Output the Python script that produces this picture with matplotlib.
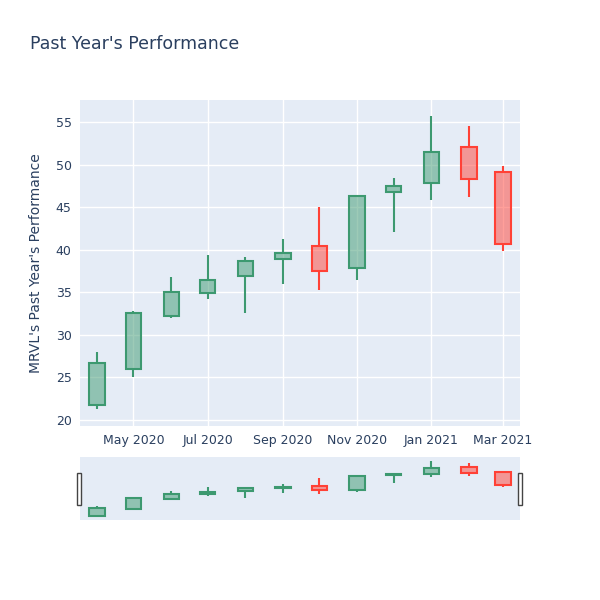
import matplotlib
matplotlib.use("Agg")
import matplotlib.pyplot as plt
import matplotlib.dates as mdates
from matplotlib.patches import Rectangle
import datetime as dt

dates = ["2020-04-01", "2020-05-01", "2020-06-01", "2020-07-01", "2020-08-01", "2020-09-01",
         "2020-10-01", "2020-11-01", "2020-12-01", "2021-01-01", "2021-02-01", "2021-03-01"]
opens = [21.76, 26.03, 32.21, 34.95, 36.95, 38.91, 40.40, 37.85, 46.82, 47.80, 52.10, 49.09]
highs = [27.95, 32.84, 36.83, 39.34, 39.18, 41.30, 44.98, 46.30, 48.39, 55.71, 54.53, 49.80]
lows = [21.26, 25.00, 31.94, 34.25, 32.53, 35.94, 35.27, 36.48, 42.08, 45.88, 46.16, 39.88]
closes = [26.66, 32.60, 35.00, 36.41, 38.71, 39.61, 37.46, 46.27, 47.52, 51.44, 48.27, 40.71]

tick_dates = ["2020-05-01", "2020-07-01", "2020-09-01", "2020-11-01", "2021-01-01", "2021-03-01"]
tick_labels = ["May 2020", "Jul 2020", "Sep 2020", "Nov 2020", "Jan 2021", "Mar 2021"]
y_ticks = [20, 25, 30, 35, 40, 45, 50, 55]

INC = "#3D9970"
DEC = "#FF4136"
BG = "#E5ECF6"
TXT = "#2a3f5f"

fig = plt.figure(figsize=(6, 6), dpi=100)
fig.patch.set_facecolor("white")

ax = fig.add_axes([80/600, 1-426/600, 440/600, 326/600])
ax2 = fig.add_axes([80/600, 1-520/600, 440/600, 63/600])

xd = [mdates.date2num(dt.datetime.strptime(d, "%Y-%m-%d")) for d in dates]
xmin = mdates.date2num(dt.datetime(2020, 3, 18))
xmax = mdates.date2num(dt.datetime(2021, 3, 15))
half = 6.3

def draw(a, lw_box, lw_wick):
    for x, o, h, l, c in zip(xd, opens, highs, lows, closes):
        col = INC if c >= o else DEC
        lo, hi = min(o, c), max(o, c)
        a.plot([x, x], [hi, h], color=col, lw=lw_wick, solid_capstyle="butt", zorder=3)
        a.plot([x, x], [l, lo], color=col, lw=lw_wick, solid_capstyle="butt", zorder=3)
        a.add_patch(Rectangle((x-half, lo), 2*half, hi-lo, facecolor=col, alpha=0.5,
                              edgecolor="none", zorder=3))
        a.add_patch(Rectangle((x-half, lo), 2*half, hi-lo, facecolor="none",
                              edgecolor=col, lw=lw_box, zorder=4))
    a.set_xlim(xmin, xmax)
    a.set_ylim(19.3, 57.6)
    a.set_facecolor(BG)
    for s in a.spines.values():
        s.set_visible(False)

draw(ax, 1.5, 1.5)
draw(ax2, 1.5, 1.5)
ax2.set_ylim(19.1, 58.2)
ax2.set_xticks([])
ax2.set_yticks([])

ax.set_yticks(y_ticks)
ax.set_xticks([mdates.date2num(dt.datetime.strptime(d, "%Y-%m-%d")) for d in tick_dates])
ax.set_xticklabels(tick_labels)
ax.grid(True, color="white", lw=1.0)
ax.set_axisbelow(True)
ax.tick_params(axis="both", length=0, labelsize=9, labelcolor=TXT, pad=6)
ax.set_ylabel("MRVL's Past Year's Performance", fontsize=10, color=TXT, labelpad=9)

fig.text(30/600, 1-44/600, "Past Year's Performance", fontsize=12.5, color=TXT,
         ha="left", va="center")

# range slider handles
for hx in (77.3, 518):
    fig.patches.append(Rectangle((hx/600, 1-505/600), 4/600, 32/600, transform=fig.transFigure,
                                 facecolor="white", edgecolor="#444444", lw=1, zorder=10))

fig.savefig("out.png", dpi=100)
